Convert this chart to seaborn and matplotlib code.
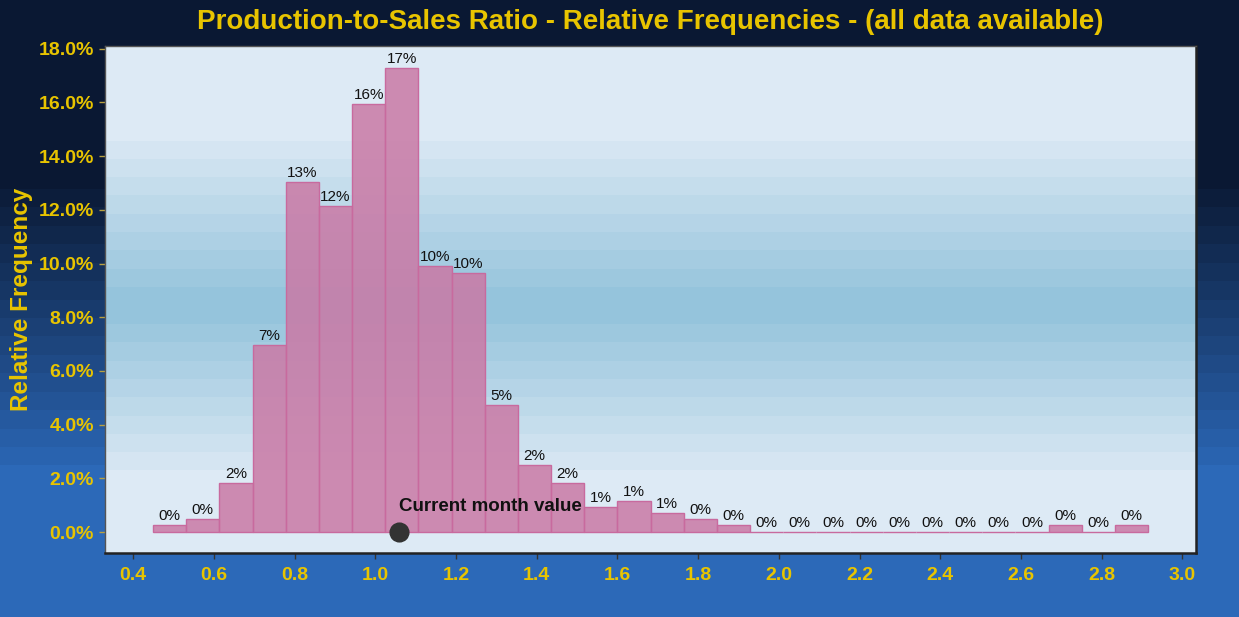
import numpy as np
import pandas as pd
import matplotlib
matplotlib.use("Agg")
import matplotlib.pyplot as plt
from matplotlib.ticker import FuncFormatter, FixedLocator
import seaborn as sns

# ---------------- data ----------------
bin_start = 0.449
bin_width = 0.0822
rel_freq_pct = [0.26, 0.47, 1.82, 6.96, 13.02, 12.14, 15.94, 17.27, 9.91, 9.66,
                4.73, 2.48, 1.82, 0.94, 1.14, 0.70, 0.47, 0.25, 0.0, 0.0,
                0.0, 0.0, 0.0, 0.0, 0.0, 0.0, 0.0, 0.25, 0.0, 0.25]
current_value = 1.058
x_ticks = [0.4, 0.6, 0.8, 1.0, 1.2, 1.4, 1.6, 1.8, 2.0, 2.2, 2.4, 2.6, 2.8, 3.0]
y_ticks = [0.0, 0.02, 0.04, 0.06, 0.08, 0.10, 0.12, 0.14, 0.16, 0.18]
title = "Production-to-Sales Ratio - Relative Frequencies - (all data available)"
y_label = "Relative Frequency"
current_label = "Current month value"

n_bins = len(rel_freq_pct)
edges = bin_start + bin_width * np.arange(n_bins + 1)
centers = (edges[:-1] + edges[1:]) / 2
freq = np.array(rel_freq_pct) / 100.0
df = pd.DataFrame({"ratio": centers, "freq": freq})

# ---------------- style ----------------
plt.rcParams["font.family"] = ["Liberation Sans", "DejaVu Sans"]
GOLD = "#E8C400"

W, H, DPI = 1239, 617, 100
fig = plt.figure(figsize=(W / DPI, H / DPI), dpi=DPI)

def hex2rgb(h):
    h = h.lstrip("#")
    return np.array([int(h[i:i + 2], 16) for i in (0, 2, 4)]) / 255.0

# figure background gradient (stepped)
navy = hex2rgb("#0A1833")
blue = hex2rgb("#2C69B8")
rows = np.arange(H)
g0, g1, nsteps = 170, 465, 16
t = np.clip((rows - g0) / (g1 - g0), 0, 1)
t = np.floor(t * nsteps) / nsteps
t[rows >= g1] = 1.0
bg = navy[None, :] * (1 - t[:, None]) + blue[None, :] * t[:, None]
bg_ax = fig.add_axes([0, 0, 1, 1], zorder=-10)
bg_ax.imshow(bg[:, None, :], aspect="auto", extent=[0, 1, 0, 1])
bg_ax.set_axis_off()

# main axes
L, R, T, B = 105, 1196, 46, 553
ax = fig.add_axes([L / W, 1 - B / H, (R - L) / W, (B - T) / H])
ax.patch.set_visible(False)

# panel gradient
light = hex2rgb("#DDEAF5")
mid = hex2rgb("#95C4DC")
prow = np.arange(T, B)
c, hw, ps = 305, 165, 9
tp = 1 - np.abs(prow - c) / hw
tp = np.clip(tp, 0, 1)
tp = np.ceil(tp * ps) / ps
tp[(prow < 141) | (prow > 470)] = 0
panel = light[None, :] * (1 - tp[:, None]) + mid[None, :] * tp[:, None]
ax.imshow(panel[:, None, :], aspect="auto", extent=[0, 1, 0, 1],
          transform=ax.transAxes, zorder=0)

# histogram bars
sns.histplot(data=df, x="ratio", weights="freq", bins=n_bins,
             binrange=(edges[0], edges[-1]), stat="count",
             color="#CA79A5", alpha=0.85, edgecolor="#C86A9E", linewidth=1.0,
             ax=ax, zorder=2)

# bar labels
for xc, v in zip(centers, rel_freq_pct):
    ax.annotate(f"{round(v)}%", xy=(xc, v / 100), xytext=(0, 1.5),
                textcoords="offset points", ha="center", va="bottom",
                fontsize=11, color="#111111", zorder=4)

# current month marker
sns.scatterplot(x=[current_value], y=[0.0], s=180, color="#333333",
                edgecolor="#333333", ax=ax, zorder=5, legend=False)
ax.text(current_value, 0.0094, current_label, ha="left", va="center",
        fontsize=13.5, fontweight="bold", color="#111111", zorder=5)

# axes limits and ticks
ax.set_xlim(0.3299, 3.0337)
ax.set_ylim(-0.0078, 0.1810)
ax.xaxis.set_major_locator(FixedLocator(x_ticks))
ax.yaxis.set_major_locator(FixedLocator(y_ticks))
ax.xaxis.set_major_formatter(FuncFormatter(lambda v, p: f"{v:.1f}"))
ax.yaxis.set_major_formatter(FuncFormatter(lambda v, p: f"{v * 100:.1f}%"))
ax.tick_params(axis="x", colors="#333333", length=4, width=1, labelsize=14,
               labelcolor=GOLD, pad=6)
ax.tick_params(axis="y", colors="#B8A040", length=4, width=1, labelsize=14,
               labelcolor=GOLD, pad=4)
for lab in ax.get_xticklabels() + ax.get_yticklabels():
    lab.set_fontweight("bold")

ax.set_xlabel("")
ax.set_ylabel(y_label, fontsize=17.5, fontweight="bold", color=GOLD)
ax.yaxis.set_label_coords((33 - L) / (R - L), 0.5)

for side in ["left", "top"]:
    ax.spines[side].set_color("#555555")
    ax.spines[side].set_linewidth(1.0)
for side in ["right", "bottom"]:
    ax.spines[side].set_color("#222222")
    ax.spines[side].set_linewidth(1.8)

fig.text(650 / W, 1 - 22 / H, title, ha="center", va="center",
         fontsize=20, fontweight="bold", color=GOLD)

fig.savefig("out.png", dpi=DPI)
